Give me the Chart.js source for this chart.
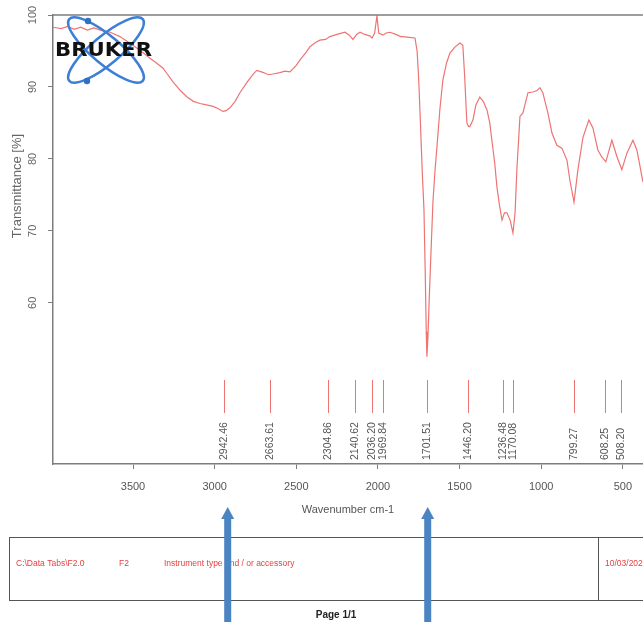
<!DOCTYPE html>
<html><head><meta charset="utf-8">
<script src="https://cdn.jsdelivr.net/npm/chart.js@4.4.1/dist/chart.umd.min.js"></script>
<style>html,body{margin:0;padding:0;background:#fff}canvas{display:block}</style>
</head><body>
<canvas id="c" width="643" height="622"></canvas>
<script>
const wavenumbers = [3990,3940,3900,3860,3820,3780,3740,3700,3640,3580,3500,3440,3396,3360,3316,3290,3255,3210,3169,3130,3090,3050,3010,2980,2949,2930,2906,2875,2845,2800,2760,2741,2700,2670,2643,2600,2570,2539,2500,2477,2440,2416,2380,2355,2320,2294,2250,2202,2175,2153,2130,2110,2080,2050,2036,2020,2006,1995,1969,1950,1926,1890,1860,1847,1810,1773,1760,1750,1738,1728,1718,1710,1704,1700,1694,1685,1675,1663,1650,1639,1620,1602,1580,1559,1530,1498,1480,1470,1455,1445,1437,1418,1400,1376,1355,1332,1315,1302,1285,1271,1255,1240,1225,1210,1190,1173,1160,1149,1130,1112,1081,1051,1025,1008,990,959,934,904,873,842,824,799,775,744,708,683,653,630,604,567,536,506,475,438,414,395,383,377];
const transmittance = [98.3,98.1,98.4,98.0,98.3,97.9,98.2,97.9,97.6,97.0,95.8,94.8,94.0,93.4,92.6,91.8,90.7,89.5,88.6,88.0,87.7,87.5,87.3,87.0,86.6,86.7,87.1,88.0,89.2,90.7,91.9,92.3,92.0,91.7,91.8,92.0,92.2,92.1,93.0,93.75,94.8,95.6,96.2,96.5,96.6,97.0,97.3,97.6,97.2,96.6,97.3,97.6,97.3,97.1,96.8,97.5,99.9,97.5,97.2,97.5,97.6,97.3,97.0,97.0,96.9,96.8,95.0,91.0,84.0,78.0,73.0,64.0,56.0,52.5,55.0,61.0,67.0,74.0,78.5,81.5,87.0,91.0,93.3,94.7,95.5,96.1,95.8,92.0,85.0,84.5,84.5,85.4,87.5,88.6,88.0,86.8,85.0,82.6,79.5,76.1,73.5,71.5,72.5,72.5,71.5,69.7,72.5,78.5,85.9,86.4,89.2,89.3,89.5,89.9,89.2,86.4,83.6,81.9,81.5,79.8,77.0,74.0,78.5,83.0,85.4,84.3,81.25,80.3,79.6,82.6,80.3,78.5,80.8,82.6,81.25,79.0,77.5,76.8];
const peakPositions = [2942.46,2663.61,2304.86,2140.62,2036.20,1969.84,1701.51,1446.20,1236.48,1170.08,799.27,608.25,508.20];
const peakLabels = ['2942.46','2663.61','2304.86','2140.62','2036.20','1969.84','1701.51','1446.20','1236.48','1170.08','799.27','608.25','508.20'];
const xTicks = [3500,3000,2500,2000,1500,1000,500];
const yTicks = [60,70,80,90,100];
const arrowPositions = [2920,1695];
const footerTexts = ['C:\\Data Tabs\\F2.0','F2','Instrument type and / or accessory','10/03/2023'];

const RED = '#ee7474';
const AXIS = '#7c7c7c';

const decor = {
  id: 'decor',
  afterDraw(chart) {
    const {ctx, chartArea: a, scales: {x, y}} = chart;
    ctx.save();
    // top frame line
    ctx.strokeStyle = AXIS; ctx.lineWidth = 1.5;
    ctx.beginPath(); ctx.moveTo(a.left, a.top); ctx.lineTo(a.right, a.top); ctx.stroke();

    // y tick labels (rotated)
    ctx.fillStyle = '#666'; ctx.font = '11px "Liberation Sans"';
    ctx.textAlign = 'center'; ctx.textBaseline = 'middle';
    yTicks.forEach(v => {
      ctx.save(); ctx.translate(33, y.getPixelForValue(v)); ctx.rotate(-Math.PI/2);
      ctx.fillText(String(v), 0, 0); ctx.restore();
    });
    // y title
    ctx.save(); ctx.translate(17, 186); ctx.rotate(-Math.PI/2);
    ctx.font = '13px "Liberation Sans"'; ctx.fillText('Transmittance [%]', 0, 0); ctx.restore();
    // x title
    ctx.font = '11px "Liberation Sans"'; ctx.fillStyle = '#555';
    ctx.fillText('Wavenumber cm-1', (a.left + a.right)/2, 510);

    // peak markers
    peakPositions.forEach((p, i) => {
      const px = Math.round(x.getPixelForValue(p)) + 0.5;
      ctx.strokeStyle = RED; ctx.lineWidth = 1;
      ctx.beginPath(); ctx.moveTo(px, 380); ctx.lineTo(px, 413); ctx.stroke();
      ctx.save(); ctx.translate(px, 460); ctx.rotate(-Math.PI/2);
      ctx.fillStyle = '#555'; ctx.font = '10.5px "Liberation Sans"';
      ctx.textAlign = 'left'; ctx.textBaseline = 'middle';
      ctx.fillText(peakLabels[i], 0, 0); ctx.restore();
    });

    // logo
    ctx.strokeStyle = '#3d7fd6'; ctx.lineWidth = 2.5;
    [40, -40].forEach(deg => {
      ctx.beginPath();
      ctx.ellipse(106, 50, 48, 14, deg*Math.PI/180, 0, Math.PI*2);
      ctx.stroke();
    });
    ctx.fillStyle = '#2f6fc8';
    [[88,21],[87,81]].forEach(([cx,cy]) => { ctx.beginPath(); ctx.arc(cx, cy, 3.2, 0, Math.PI*2); ctx.fill(); });
    ctx.save();
    ctx.font = 'bold 19px "DejaVu Sans"';
    const tw = ctx.measureText('BRUKER').width;
    ctx.translate(55, 51); ctx.scale(97/tw, 1);
    ctx.textAlign = 'left'; ctx.textBaseline = 'middle';
    ctx.fillStyle = '#111'; ctx.fillText('BRUKER', 0, 0);
    ctx.restore();

    // footer box
    ctx.strokeStyle = '#555'; ctx.lineWidth = 1;
    ctx.strokeRect(9.5, 537.5, 660, 63);
    ctx.beginPath(); ctx.moveTo(598.5, 537.5); ctx.lineTo(598.5, 600.5); ctx.stroke();
    ctx.fillStyle = '#e64040'; ctx.font = '8.5px "Liberation Sans"';
    ctx.textAlign = 'left'; ctx.textBaseline = 'middle';
    const fx = [16, 119, 164, 605];
    footerTexts.forEach((t, i) => ctx.fillText(t, fx[i], 564));
    ctx.fillStyle = '#222'; ctx.font = 'bold 10px "Liberation Sans"'; ctx.textAlign = 'center';
    ctx.fillText('Page 1/1', 336, 615);

    // arrows
    ctx.fillStyle = '#4a84c2';
    arrowPositions.forEach(p => {
      const px = x.getPixelForValue(p);
      ctx.fillRect(px - 3.5, 517, 7, 110);
      ctx.beginPath(); ctx.moveTo(px, 507); ctx.lineTo(px + 6.5, 519); ctx.lineTo(px - 6.5, 519); ctx.closePath(); ctx.fill();
    });
    ctx.restore();
  }
};

new Chart(document.getElementById('c'), {
  type: 'line',
  data: {
    datasets: [{
      data: wavenumbers.map((w, i) => ({x: w, y: transmittance[i]})),
      borderColor: RED, borderWidth: 1.2, pointRadius: 0, tension: 0, fill: false
    }]
  },
  options: {
    responsive: false, animation: false, devicePixelRatio: 1,
    layout: {padding: {top: 15, right: 0, left: 0, bottom: 0}},
    plugins: {legend: {display: false}, tooltip: {enabled: false}},
    scales: {
      x: {
        type: 'linear', reverse: true, min: 377, max: 3990,
        afterBuildTicks: s => { s.ticks = xTicks.map(v => ({value: v})); },
        afterFit: s => { s.height = 158; },
        grid: {drawOnChartArea: false, drawTicks: true, tickLength: 5, color: AXIS},
        border: {display: true, color: AXIS, width: 1.5},
        ticks: {color: '#555', font: {family: 'Liberation Sans', size: 11}, padding: 11, maxRotation: 0, autoSkip: false, callback: v => String(v)}
      },
      y: {
        type: 'linear', min: 37.6, max: 100,
        afterBuildTicks: s => { s.ticks = yTicks.map(v => ({value: v})); },
        afterFit: s => { s.width = 53; },
        grid: {drawOnChartArea: false, drawTicks: true, tickLength: 5, color: AXIS},
        border: {display: true, color: AXIS, width: 1.5},
        ticks: {display: false}
      }
    }
  },
  plugins: [decor]
});
</script>
</body></html>
